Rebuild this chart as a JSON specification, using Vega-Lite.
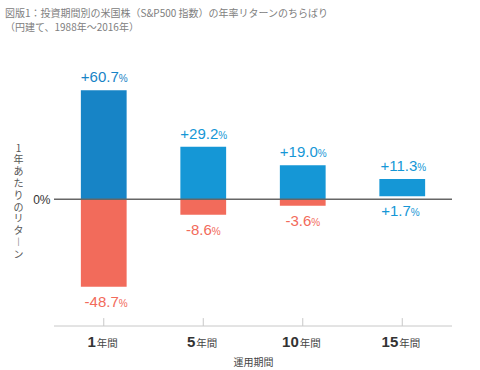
{
  "$schema": "https://vega.github.io/schema/vega-lite/v6.json",
  "autosize": {"type": "none"},
  "padding": {"left": 54, "top": 60, "right": 28, "bottom": 44},
  "width": 398,
  "height": 266,
  "background": "white",
  "title": {
    "text": ["図版1：投資期間別の米国株（S&P500 指数）の年率リターンのちらばり", "（円建て、1988年〜2016年）"],
    "anchor": "start",
    "frame": "group",
    "dx": -49,
    "offset": 27,
    "font": "Noto Sans CJK JP",
    "fontSize": 10,
    "fontWeight": "normal",
    "lineHeight": 14,
    "color": "#808080"
  },
  "config": {
    "view": {"stroke": null},
    "axis": {"domain": false, "ticks": false, "grid": false},
    "axisX": {"labels": false}
  },
  "datasets": {
    "bars": [
      {"period": "1年間", "lo": 0, "hi": 60.7, "tone": "dark"},
      {"period": "1年間", "lo": -48.7, "hi": 0, "tone": "red"},
      {"period": "5年間", "lo": 0, "hi": 29.2, "tone": "blue"},
      {"period": "5年間", "lo": -8.6, "hi": 0, "tone": "red"},
      {"period": "10年間", "lo": 0, "hi": 19.0, "tone": "blue"},
      {"period": "10年間", "lo": -3.6, "hi": 0, "tone": "red"},
      {"period": "15年間", "lo": 1.7, "hi": 11.3, "tone": "blue"}
    ],
    "labels": [
      {"period": "1年間", "value": 60.7, "txt": "+60.7", "pos": "top", "tone": "dark"},
      {"period": "5年間", "value": 29.2, "txt": "+29.2", "pos": "top", "tone": "blue"},
      {"period": "10年間", "value": 19.0, "txt": "+19.0", "pos": "top", "tone": "blue"},
      {"period": "15年間", "value": 11.3, "txt": "+11.3", "pos": "top", "tone": "blue"},
      {"period": "1年間", "value": -48.7, "txt": "-48.7", "pos": "bottom", "tone": "red"},
      {"period": "5年間", "value": -8.6, "txt": "-8.6", "pos": "bottom", "tone": "red"},
      {"period": "10年間", "value": -3.6, "txt": "-3.6", "pos": "bottom", "tone": "red"},
      {"period": "15年間", "value": 1.7, "txt": "+1.7", "pos": "bottom", "tone": "blue"}
    ],
    "periods": [
      {"period": "1年間", "num": "1"},
      {"period": "5年間", "num": "5"},
      {"period": "10年間", "num": "10"},
      {"period": "15年間", "num": "15"}
    ]
  },
  "layer": [
    {
      "data": {"name": "bars"},
      "mark": {"type": "bar"},
      "encoding": {
        "x": {
          "field": "period",
          "type": "nominal",
          "sort": ["1年間", "5年間", "10年間", "15年間"],
          "scale": {"domain": ["1年間", "5年間", "10年間", "15年間"], "paddingInner": 0.54, "paddingOuter": 0.27},
          "axis": {
            "labels": false,
            "ticks": false,
            "domain": false,
            "title": "運用期間",
            "titleFont": "Noto Sans CJK JP",
            "titleFontSize": 10,
            "titleFontWeight": "normal",
            "titleColor": "#444444",
            "titlePadding": 31
          }
        },
        "y": {
          "field": "lo",
          "type": "quantitative",
          "scale": {"domain": [-70.5, 77.5], "nice": false, "zero": false},
          "axis": {
            "values": [0],
            "labelExpr": "'0%'",
            "domain": false,
            "ticks": false,
            "grid": false,
            "labelFont": "Liberation Sans",
            "labelFontSize": 12,
            "labelColor": "#333333",
            "labelPadding": 4,
            "title": ["1", "年", "あ", "た", "り", "の", "リ", "タ", "︱", "ン"],
            "titleAngle": 0,
            "titleX": -36,
            "titleY": 83,
            "titleAlign": "center",
            "titleBaseline": "top",
            "titleFont": "Noto Sans CJK JP",
            "titleFontSize": 10,
            "titleFontWeight": "normal",
            "titleLineHeight": 11.8,
            "titleColor": "#555555"
          }
        },
        "y2": {"field": "hi"},
        "color": {
          "field": "tone",
          "type": "nominal",
          "scale": {"domain": ["dark", "blue", "red"], "range": ["#1784c6", "#1597d6", "#f26b5b"]},
          "legend": null
        }
      }
    },
    {
      "data": {"name": "periods"},
      "mark": {"type": "rule", "color": "#c8c8c8", "strokeWidth": 1},
      "encoding": {
        "x": {"field": "period", "type": "nominal"},
        "y": {"datum": -70.5},
        "y2": {"datum": -66.1}
      }
    },
    {
      "data": {"values": [{}]},
      "mark": {"type": "rule", "color": "#c8c8c8", "strokeWidth": 1},
      "encoding": {"y": {"datum": -70.5}}
    },
    {
      "data": {"values": [{}]},
      "mark": {"type": "rule", "color": "#666666", "strokeWidth": 1.5},
      "encoding": {"y": {"datum": 0}}
    },
    {
      "data": {"name": "labels"},
      "transform": [{"filter": "datum.pos == 'top'"}],
      "mark": {"type": "text", "align": "right", "baseline": "alphabetic", "dx": 15, "dy": -8, "font": "Liberation Sans", "fontSize": 15},
      "encoding": {
        "x": {"field": "period", "type": "nominal"},
        "y": {"field": "value", "type": "quantitative"},
        "text": {"field": "txt"},
        "color": {"field": "tone", "type": "nominal"}
      }
    },
    {
      "data": {"name": "labels"},
      "transform": [{"filter": "datum.pos == 'top'"}],
      "mark": {"type": "text", "align": "left", "baseline": "alphabetic", "dx": 15, "dy": -8, "font": "Liberation Sans", "fontSize": 10, "text": "%"},
      "encoding": {
        "x": {"field": "period", "type": "nominal"},
        "y": {"field": "value", "type": "quantitative"},
        "color": {"field": "tone", "type": "nominal"}
      }
    },
    {
      "data": {"name": "labels"},
      "transform": [{"filter": "datum.pos == 'bottom' && length(datum.txt) == 5"}],
      "mark": {"type": "text", "align": "right", "baseline": "alphabetic", "dx": 15, "dy": 20, "font": "Liberation Sans", "fontSize": 15},
      "encoding": {
        "x": {"field": "period", "type": "nominal"},
        "y": {"field": "value", "type": "quantitative"},
        "text": {"field": "txt"},
        "color": {"field": "tone", "type": "nominal"}
      }
    },
    {
      "data": {"name": "labels"},
      "transform": [{"filter": "datum.pos == 'bottom' && length(datum.txt) == 5"}],
      "mark": {"type": "text", "align": "left", "baseline": "alphabetic", "dx": 15, "dy": 20, "font": "Liberation Sans", "fontSize": 10, "text": "%"},
      "encoding": {
        "x": {"field": "period", "type": "nominal"},
        "y": {"field": "value", "type": "quantitative"},
        "color": {"field": "tone", "type": "nominal"}
      }
    },
    {
      "data": {"name": "labels"},
      "transform": [{"filter": "datum.pos == 'bottom' && length(datum.txt) == 4"}],
      "mark": {"type": "text", "align": "right", "baseline": "alphabetic", "dx": 8.5, "dy": 20, "font": "Liberation Sans", "fontSize": 15},
      "encoding": {
        "x": {"field": "period", "type": "nominal"},
        "y": {"field": "value", "type": "quantitative"},
        "text": {"field": "txt"},
        "color": {"field": "tone", "type": "nominal"}
      }
    },
    {
      "data": {"name": "labels"},
      "transform": [{"filter": "datum.pos == 'bottom' && length(datum.txt) == 4"}],
      "mark": {"type": "text", "align": "left", "baseline": "alphabetic", "dx": 8.5, "dy": 20, "font": "Liberation Sans", "fontSize": 10, "text": "%"},
      "encoding": {
        "x": {"field": "period", "type": "nominal"},
        "y": {"field": "value", "type": "quantitative"},
        "color": {"field": "tone", "type": "nominal"}
      }
    },
    {
      "data": {"name": "periods"},
      "transform": [{"filter": "length(datum.num) == 1"}],
      "mark": {"type": "text", "align": "right", "baseline": "alphabetic", "dx": -8, "dy": 21, "font": "Liberation Sans", "fontSize": 15, "fontWeight": "bold", "color": "#333333"},
      "encoding": {"x": {"field": "period", "type": "nominal"}, "y": {"datum": -70.5}, "text": {"field": "num"}}
    },
    {
      "data": {"name": "periods"},
      "transform": [{"filter": "length(datum.num) == 1"}],
      "mark": {"type": "text", "align": "left", "baseline": "alphabetic", "dx": -7, "dy": 21, "font": "Noto Sans CJK JP", "fontSize": 10.5, "color": "#444444", "text": "年間"},
      "encoding": {"x": {"field": "period", "type": "nominal"}, "y": {"datum": -70.5}}
    },
    {
      "data": {"name": "periods"},
      "transform": [{"filter": "length(datum.num) == 2"}],
      "mark": {"type": "text", "align": "right", "baseline": "alphabetic", "dx": -4, "dy": 21, "font": "Liberation Sans", "fontSize": 15, "fontWeight": "bold", "color": "#333333"},
      "encoding": {"x": {"field": "period", "type": "nominal"}, "y": {"datum": -70.5}, "text": {"field": "num"}}
    },
    {
      "data": {"name": "periods"},
      "transform": [{"filter": "length(datum.num) == 2"}],
      "mark": {"type": "text", "align": "left", "baseline": "alphabetic", "dx": -3, "dy": 21, "font": "Noto Sans CJK JP", "fontSize": 10.5, "color": "#444444", "text": "年間"},
      "encoding": {"x": {"field": "period", "type": "nominal"}, "y": {"datum": -70.5}}
    }
  ]
}
